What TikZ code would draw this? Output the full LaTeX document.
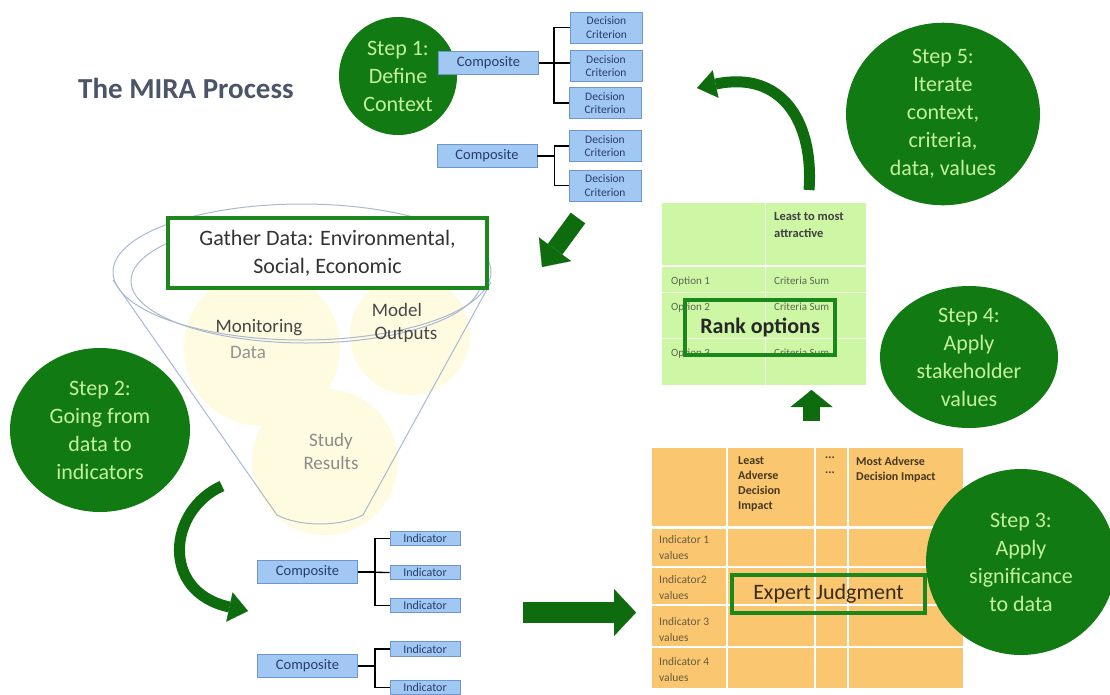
\documentclass[tikz,border=0pt]{standalone}
\usepackage{fontspec}
\setmainfont{Carlito}
\usetikzlibrary{arrows.meta,shapes.geometric}
\definecolor{stepgreen}{RGB}{18,122,18}
\definecolor{steptext}{RGB}{195,240,160}
\definecolor{boxgreen}{RGB}{28,135,28}
\definecolor{arrowgreen}{RGB}{14,108,14}
\definecolor{compfill}{RGB}{160,200,242}
\definecolor{compdraw}{RGB}{110,150,205}
\definecolor{comptext}{RGB}{40,60,110}
\definecolor{funnelline}{RGB}{170,185,210}
\definecolor{blob}{RGB}{255,251,224}
\definecolor{orangefill}{RGB}{250,199,112}
\definecolor{greenfill}{RGB}{205,246,165}
\definecolor{titlecol}{RGB}{75,85,103}
\definecolor{tabletext}{RGB}{70,55,30}
\definecolor{rowtext}{RGB}{105,90,60}
\definecolor{gtabtext}{RGB}{90,105,80}
\newcommand{\fsz}[2]{\fontsize{#1}{#2}\selectfont}
\begin{document}
\begin{tikzpicture}[x=1pt,y=-1pt,
  stepcircle/.style={ellipse, fill=stepgreen, text=steptext, align=center, inner sep=0pt, font=\fsz{22}{28}},
  compbox/.style={rectangle, fill=compfill, draw=compdraw, line width=0.8pt, text=comptext, font=\fsz{14.5}{16}, minimum width=100pt, minimum height=23pt, inner sep=0pt},
  critbox/.style={rectangle, fill=compfill, draw=compdraw, line width=0.8pt, text=comptext, align=center, font=\fsz{11.5}{13.5}, minimum width=72pt, minimum height=31pt, inner sep=0pt},
  indbox/.style={rectangle, fill=compfill, draw=compdraw, line width=0.8pt, text=comptext, font=\fsz{12}{13}, minimum width=70pt, minimum height=14.5pt, inner sep=0pt},
  tree/.style={draw=black, line width=1.3pt},
  framebox/.style={draw=boxgreen, line width=4pt, inner sep=0pt},
  funnel/.style={draw=funnelline, line width=1pt},
  bigarrow/.style={draw=arrowgreen},
  celltext/.style={anchor=north west, inner sep=0pt, align=left},
]
\useasboundingbox[fill=white] (0,0) rectangle (1110,694);

% ---------- title ----------
\node[anchor=west, inner sep=0pt, text=titlecol, font=\bfseries\fsz{29}{32}] (title) at (78,88) {The MIRA Process};

% ---------- funnel ----------
\fill[blob] (262,348) circle (78);
\fill[blob] (410,335) circle (60);
\fill[blob] (325,462) circle (73);
\draw[funnel] (302,272) ellipse [x radius=189, y radius=68];
\draw[funnel] (306,281) ellipse [x radius=175, y radius=62];
\draw[funnel] (113,280) -- (277,515) .. controls (300,527) and (340,527) .. (363,515) -- (491,282);

\node[inner sep=0pt, text=black!72, font=\fsz{19}{23}] (mon) at (259,328) {Monitoring};
\node[inner sep=0pt, text=black!42, font=\fsz{19}{23}] (mondata) at (248,352) {Data};
\node[inner sep=0pt, text=black!72, font=\fsz{19}{23}, align=center] (model) at (397,323) {Model\\\hspace*{18pt}Outputs};
\node[inner sep=0pt, text=black!45, font=\fsz{19}{23}, align=center] (study) at (331,451) {Study\\Results};

\node[framebox, fill=white, minimum width=319pt, minimum height=70pt, align=center, text=black!80, font=\fsz{22}{28}] (gather) at (327.5,253) {Gather Data: Environmental,\\Social, Economic};

% ---------- step 1 and criteria tree ----------
\node[stepcircle, minimum width=118pt, minimum height=118pt] (s1) at (398,76) {Step 1:\\Define\\Context};

\node[compbox] (c1) at (488.5,63) {Composite};
\node[compbox] (c2) at (487,156) {Composite};
\node[critbox] (d1) at (606.5,27.5) {Decision\\Criterion};
\node[critbox] (d2) at (606,66) {Decision\\Criterion};
\node[critbox] (d3) at (605,103) {Decision\\Criterion};
\node[critbox] (d4) at (605,146) {Decision\\Criterion};
\node[critbox] (d5) at (605,185.5) {Decision\\Criterion};
\draw[tree] (c1.east) -- ++(15,0) |- (d1.west);
\draw[tree] (c1.east) ++(15,0) |- (d3.west);
\draw[tree] (c1.east) -- (d2.west |- c1.east);
\draw[tree] (c2.east) -- ++(17,0) |- (d4.west);
\draw[tree] (c2.east) ++(17,0) |- (d5.west);

% ---------- arrow step1 -> funnel ----------
\coordinate (a1s) at (578,218);
\coordinate (a1e) at (542,267);
\draw[bigarrow, line width=18pt, -{Triangle[width=40pt,length=22pt,line width=0.1pt]}] (a1s) -- (a1e);

% ---------- step 2 ----------
\node[stepcircle, minimum width=180pt, minimum height=164pt] (s2) at (100,430) {Step 2:\\Going from\\data to\\indicators};
\coordinate (a2s) at (222,486);
\coordinate (a2e) at (248,611);
\draw[bigarrow, line width=11pt, -{Triangle[width=30pt,length=19pt,line width=0.1pt]}] (a2s) .. controls (168,510) and (160,592) .. (a2e);

% ---------- indicator tree ----------
\node[compbox] (c3) at (307.5,572) {Composite};
\node[compbox] (c4) at (307.5,666) {Composite};
\node[indbox] (i1) at (425,538.5) {Indicator};
\node[indbox] (i2) at (425,572.5) {Indicator};
\node[indbox] (i3) at (425,605.5) {Indicator};
\node[indbox] (i4) at (425,649) {Indicator};
\node[indbox] (i5) at (425,687.5) {Indicator};
\draw[tree] (c3.east) -- ++(17,0) |- (i1.west);
\draw[tree] (c3.east) ++(17,0) |- (i3.west);
\draw[tree] (c3.east) -- (i2.west);
\draw[tree] (c4.east) -- ++(17,0) |- (i4.west);
\draw[tree] (c4.east) ++(17,0) |- (i5.west);

% ---------- arrow to expert table ----------
\coordinate (a3s) at (523,612.5);
\coordinate (a3e) at (636,612.5);
\draw[bigarrow, line width=21pt, -{Triangle[width=47pt,length=22pt,line width=0.1pt]}] (a3s) -- (a3e);

% ---------- orange table ----------
\fill[orangefill] (652,448) rectangle (963,688);
\draw[white, line width=3pt] (652,527) -- (963,527);
\draw[white, line width=1.5pt] (652,567) -- (963,567) (652,605) -- (963,605) (652,647) -- (963,647);
\draw[white, line width=1.5pt] (727,448) -- (727,688) (815,448) -- (815,688) (848,448) -- (848,688);
\node[celltext, text=tabletext, font=\bfseries\fsz{12}{15}] (h1) at (738,457) {Least\\Adverse\\Decision\\Impact};
\node[celltext, text=tabletext, font=\bfseries\fsz{12}{15}] (h2) at (825,457) {...\\...};
\node[celltext, text=tabletext, font=\bfseries\fsz{12}{15}] (h3) at (856,457) {Most Adverse\\Decision Impact};
\node[celltext, text=rowtext, font=\fsz{11.5}{16}] (r1) at (659,535) {Indicator 1\\values};
\node[celltext, text=rowtext, font=\fsz{11.5}{16}] (r2) at (659,575) {Indicator2\\values};
\node[celltext, text=rowtext, font=\fsz{11.5}{16}] (r3) at (659,617) {Indicator 3\\values};
\node[celltext, text=rowtext, font=\fsz{11.5}{16}] (r4) at (659,657) {Indicator 4\\values};
\node[framebox, minimum width=193pt, minimum height=38pt, text=tabletext!80!black, font=\fsz{22}{26}] (expert) at (828.5,594) {Expert Judgment};

% ---------- step 3 ----------
\node[stepcircle, minimum width=190pt, minimum height=186pt] (s3) at (1021,562) {Step 3:\\Apply\\significance\\to data};

% ---------- up arrow ----------
\coordinate (a4s) at (811.5,421);
\coordinate (a4e) at (811.5,390);
\draw[bigarrow, line width=17pt, -{Triangle[width=42pt,length=17pt,line width=0.1pt]}] (a4s) -- (a4e);

% ---------- green table ----------
\fill[greenfill] (662,203) rectangle (866,385);
\draw[white, line width=2pt] (662,266) -- (866,266);
\draw[white!70!greenfill, line width=1pt] (662,292) -- (866,292) (662,338) -- (866,338);
\draw[white!70!greenfill, line width=1pt] (765,203) -- (765,385);
\node[celltext, text=black!75, font=\bfseries\fsz{12.5}{17}] (gh) at (774,212) {Least to most\\attractive};
\node[celltext, text=gtabtext, font=\fsz{11}{13}] (o1) at (671,277) {Option 1};
\node[celltext, text=gtabtext, font=\fsz{11}{13}] (o1s) at (774,277) {Criteria Sum};
\node[celltext, text=gtabtext, font=\fsz{11}{13}] (o2) at (671,303) {Option 2};
\node[celltext, text=gtabtext, font=\fsz{11}{13}] (o2s) at (774,303) {Criteria Sum};
\node[celltext, text=gtabtext, font=\fsz{11}{13}] (o3) at (671,349) {Option 3};
\node[celltext, text=gtabtext, font=\fsz{11}{13}] (o3s) at (774,349) {Criteria Sum};
\node[framebox, minimum width=150pt, minimum height=55pt, text=black!85, font=\bfseries\fsz{22}{26}] (rank) at (760,327.5) {Rank options};

% ---------- step 4 ----------
\node[stepcircle, minimum width=178pt, minimum height=142pt] (s4) at (969,357) {Step 4:\\Apply\\stakeholder\\values};

% ---------- step 5 ----------
\node[stepcircle, minimum width=194pt, minimum height=168pt] (s5) at (943,114) {Step 5:\\Iterate\\context,\\criteria,\\data, values};
\coordinate (a5s) at (809,190);
\coordinate (a5e) at (697,88);
\draw[bigarrow, line width=11pt, -{Triangle[width=28pt,length=19pt,line width=0.1pt]}] (a5s) .. controls (814,122) and (782,70) .. (a5e);
\end{tikzpicture}
\end{document}
